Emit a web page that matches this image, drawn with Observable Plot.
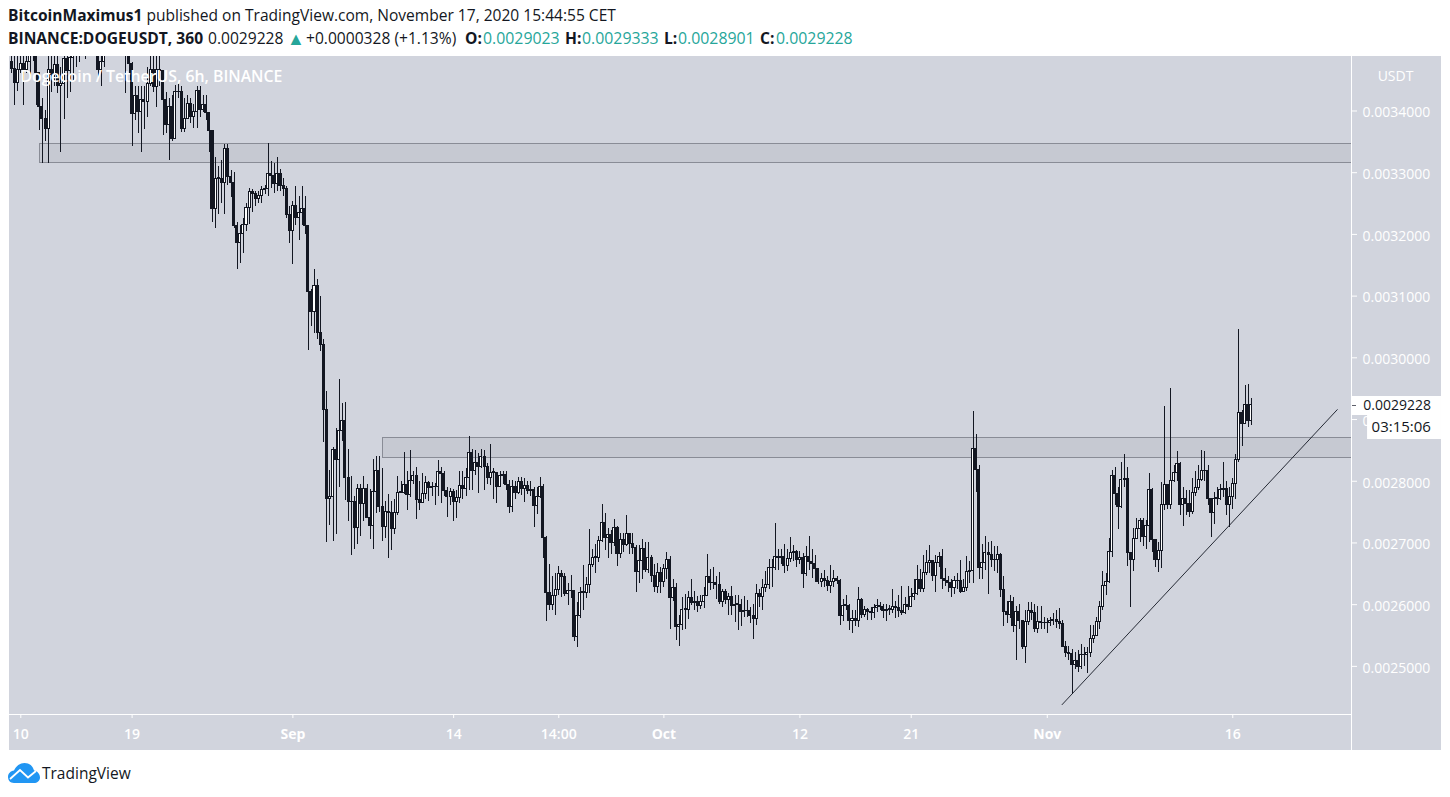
<!DOCTYPE html>
<html><head><meta charset="utf-8">
<script src="https://cdn.jsdelivr.net/npm/d3@7"></script>
<script src="https://cdn.jsdelivr.net/npm/@observablehq/plot@0.6"></script>
<style>
html,body{margin:0;padding:0;background:#fff;overflow:hidden;font-family:"Open Sans",sans-serif;color:#131722}
#head{position:relative;height:56px}
#head div{position:absolute;left:8px;white-space:pre;line-height:20px}
#l1{top:5px;font-size:15.55px}
#l2{top:28px;left:0!important;font-size:15.6px}
#l2 span{position:absolute;top:0;white-space:pre}
b{font-weight:700}.t{color:#26a69a;font-size:15.85px}
#tri{font-size:18px;line-height:20px}
svg{display:block}
#foot{position:relative;height:47px}
#foot svg{position:absolute;left:8px;top:13px}
#foot span{position:absolute;left:42px;top:12px;font-size:15.5px;line-height:22px}
</style></head><body>
<div id="head">
<div id="l1"><b>BitcoinMaximus1</b> published on TradingView.com, November 17, 2020 15:44:55 CET</div>
<div id="l2"><span style="left:8px"><b>BINANCE:DOGEUSDT, 360</b></span><span style="left:208px">0.0029228</span><span id="tri" class="t" style="left:287px;font-size:18px">▲</span><span style="left:306px">+0.0000328 (+1.13%)</span><span style="left:465px"><b>O:</b></span><span class="t" style="left:483px">0.0029023</span><span style="left:565px"><b>H:</b></span><span class="t" style="left:582px">0.0029333</span><span style="left:664px"><b>L:</b></span><span class="t" style="left:678px">0.0028901</span><span style="left:760px"><b>C:</b></span><span class="t" style="left:776px">0.0029228</span></div>
</div>
<div id="chart"></div>
<div id="foot"><svg width="32" height="20" viewBox="0 0 32 20"><path d="M6 20C2 20 0 17 0 14C0 10.500 2.500 8 6 7.500C8 3 12 0 16.500 0C21.500 0 25 3 26 7.500C29.500 8 32 11 32 14.500C32 18 29 20 26 20Z" fill="#2196f3"/><path d="M2 16L12 7L20 14.500L28 8" fill="none" stroke="#fff" stroke-width="1.800"/></svg><span>TradingView</span></div>
<script>
// prices in millionths of USDT; one bar = 6 hours, bar 0 = 10 Aug 00:00
const firstOpen = 3510;
const firstBar = -4;
const closes = [
3480,3468,3445,3466,
3476,3466,3480,3495,3510,3461,3406,3387,3371,3466,
3459,3475,3440,3444,3484,3465,3486,3500,3495,3510,
3505,3510,3520,3530,3520,3466,3480,3495,3510,3515,
3520,3510,3515,3520,3500,3476,3395,3425,3398,3417,
3414,3444,3466,3439,3466,3465,3417,3378,3406,3355,
3430,3430,3371,3387,3412,3391,3398,3432,3402,3409,
3396,3368,3241,3290,3290,3283,3338,3293,3284,3213,
3186,3200,3216,3243,3269,3265,3257,3263,3272,3274,
3298,3294,3282,3298,3279,3274,3231,3206,3246,3226,
3235,3241,3214,3107,3074,3117,3040,3020,2915,2771,
2775,2851,2835,2881,2898,2806,2766,2766,2725,2788,
2763,2788,2740,2727,2783,2817,2758,2726,2750,2748,
2723,2748,2781,2781,2794,2778,2801,2809,2770,2764,
2780,2797,2789,2790,2790,2815,2811,2784,2774,2783,
2766,2773,2793,2787,2806,2846,2816,2830,2823,2839,
2823,2806,2814,2814,2790,2809,2810,2794,2758,2790,
2781,2798,2787,2792,2784,2785,2760,2774,2790,2708,
2619,2599,2614,2624,2650,2645,2618,2622,2622,2547,
2582,2619,2619,2632,2664,2676,2676,2703,2733,2708,
2713,2700,2725,2682,2705,2696,2714,2699,2692,2653,
2670,2690,2656,2675,2646,2628,2652,2637,2657,2673,
2611,2627,2563,2567,2592,2592,2611,2603,2604,2598,
2604,2614,2645,2635,2635,2632,2604,2620,2607,2612,
2598,2600,2600,2588,2589,2590,2581,2577,2618,2612,
2627,2632,2659,2659,2677,2675,2677,2662,2674,2684,
2686,2673,2675,2650,2677,2669,2666,2658,2637,2641,
2638,2630,2637,2642,2638,2581,2598,2598,2574,2577,
2574,2607,2584,2591,2588,2586,2595,2598,2597,2590,
2592,2592,2596,2594,2590,2587,2600,2597,2612,2617,
2640,2626,2652,2667,2671,2647,2667,2678,2641,2638,
2635,2627,2638,2639,2620,2627,2653,2654,2853,2819,
2659,2668,2684,2681,2673,2672,2681,2623,2588,2583,
2605,2566,2588,2574,2531,2572,2590,2586,2561,2572,
2570,2570,2570,2574,2575,2572,2569,2532,2522,2520,
2502,2508,2499,2518,2518,2522,2545,2550,2572,2596,
2631,2637,2685,2809,2780,2758,2802,2804,2683,2672,
2707,2723,2736,2709,2728,2785,2705,2673,2687,2762,
2794,2762,2800,2813,2828,2761,2772,2763,2750,2781,
2789,2802,2816,2816,2772,2749,2772,2772,2785,2788,
2761,2774,2795,2835,2911,2892,2924,2897,2922.8
];
const highs = [
3530,3520,3500,3495,
3500,3510,3530,3540,3550,3540,3450,3420,3400,3490,
3500,3510,3500,3470,3510,3520,3530,3540,3540,3540,
3550,3540,3540,3550,3540,3530,3510,3530,3540,3550,
3550,3540,3540,3550,3530,3530,3478,3440,3440,3440,
3440,3470,3490,3490,3495,3520,3460,3430,3420,3425,
3442,3445,3440,3420,3425,3420,3410,3440,3440,3425,
3425,3395,3368,3325,3310,3320,3345,3346,3304,3300,
3220,3215,3225,3250,3275,3272,3270,3270,3278,3280,
3347,3318,3315,3325,3305,3290,3278,3245,3254,3278,
3262,3278,3262,3214,3110,3143,3127,3100,3030,2945,
2818,2855,2885,2965,2926,2928,2851,2808,2775,2795,
2795,2808,2795,2786,2835,2840,2840,2820,2767,2778,
2767,2770,2807,2800,2847,2815,2850,2815,2822,2800,
2813,2808,2800,2798,2796,2833,2822,2815,2790,2788,
2786,2785,2815,2815,2820,2872,2852,2850,2845,2851,
2850,2828,2860,2820,2810,2815,2815,2816,2802,2802,
2800,2806,2806,2805,2800,2800,2790,2790,2806,2795,
2710,2665,2645,2650,2662,2656,2650,2635,2647,2623,
2603,2628,2663,2644,2722,2689,2697,2710,2763,2748,
2724,2720,2738,2726,2716,2716,2745,2716,2715,2696,
2696,2706,2700,2700,2680,2665,2666,2660,2665,2684,
2678,2640,2634,2583,2612,2617,2622,2641,2622,2614,
2615,2627,2682,2657,2660,2645,2652,2625,2625,2618,
2630,2615,2615,2608,2613,2606,2596,2600,2632,2625,
2640,2653,2673,2673,2731,2690,2690,2698,2690,2709,
2696,2688,2686,2683,2695,2710,2690,2680,2658,2650,
2655,2645,2663,2655,2645,2640,2608,2615,2600,2590,
2590,2628,2610,2597,2594,2595,2600,2608,2604,2600,
2600,2598,2624,2605,2615,2630,2612,2630,2626,2640,
2663,2657,2680,2688,2696,2670,2680,2684,2690,2658,
2645,2640,2645,2650,2672,2640,2678,2670,2913,2876,
2825,2698,2710,2700,2702,2694,2695,2683,2645,2605,
2615,2612,2597,2600,2574,2590,2603,2603,2600,2597,
2597,2580,2578,2580,2585,2590,2593,2575,2540,2533,
2527,2522,2525,2535,2530,2530,2566,2567,2580,2605,
2654,2650,2708,2817,2822,2790,2830,2844,2823,2680,
2723,2740,2740,2740,2736,2812,2788,2705,2700,2798,
2921,2790,2951,2825,2848,2830,2790,2785,2785,2804,
2815,2826,2850,2848,2825,2772,2782,2790,2795,2830,
2800,2790,2805,2843,3046,2915,2955,2956,2933.3
];
const lows = [
3470,3460,3409,3432,
3460,3409,3460,3455,3480,3409,3369,3315,3350,3315,
3430,3440,3428,3333,3387,3420,3430,3450,3470,3478,
3490,3484,3500,3510,3500,3455,3440,3470,3495,3498,
3500,3495,3498,3500,3428,3460,3342,3385,3363,3333,
3370,3390,3440,3430,3406,3440,3360,3363,3319,3350,
3358,3420,3365,3365,3388,3380,3372,3372,3390,3398,
3385,3332,3220,3209,3233,3250,3232,3280,3260,3210,
3143,3153,3169,3205,3216,3235,3245,3250,3250,3265,
3262,3275,3267,3270,3270,3262,3225,3185,3152,3215,
3190,3215,3200,3012,3050,3040,3030,3010,2862,2701,
2728,2703,2714,2790,2865,2768,2735,2680,2690,2697,
2710,2735,2740,2706,2690,2747,2750,2702,2708,2675,
2688,2714,2745,2780,2778,2752,2773,2795,2738,2752,
2764,2771,2767,2775,2760,2775,2764,2775,2741,2760,
2735,2740,2764,2770,2776,2785,2785,2810,2780,2820,
2785,2795,2793,2770,2764,2790,2795,2785,2748,2750,
2770,2778,2777,2765,2778,2775,2725,2746,2772,2675,
2572,2590,2590,2583,2615,2612,2614,2598,2610,2540,
2530,2577,2590,2610,2618,2660,2650,2668,2700,2688,
2674,2682,2695,2662,2675,2685,2695,2682,2682,2620,
2635,2640,2652,2650,2636,2620,2618,2618,2628,2640,
2560,2605,2542,2533,2558,2559,2576,2598,2590,2587,
2592,2594,2614,2623,2625,2608,2600,2595,2600,2583,
2582,2571,2558,2565,2579,2580,2570,2544,2567,2595,
2590,2620,2625,2628,2655,2655,2665,2650,2653,2668,
2670,2660,2665,2626,2645,2655,2643,2636,2633,2628,
2628,2622,2618,2628,2632,2567,2573,2590,2558,2553,
2565,2563,2577,2580,2575,2575,2578,2588,2590,2577,
2572,2583,2585,2578,2580,2583,2584,2590,2595,2606,
2615,2620,2620,2648,2650,2638,2620,2660,2625,2630,
2620,2612,2617,2625,2618,2619,2622,2635,2635,2782,
2640,2640,2655,2617,2660,2653,2650,2612,2565,2570,
2578,2555,2510,2560,2528,2505,2567,2575,2555,2553,
2560,2560,2553,2565,2566,2562,2560,2530,2515,2510,
2454,2495,2490,2495,2500,2488,2515,2537,2548,2560,
2590,2615,2635,2677,2760,2722,2756,2790,2662,2595,
2653,2705,2700,2695,2690,2700,2685,2660,2652,2658,
2752,2755,2755,2798,2800,2744,2727,2745,2742,2746,
2775,2785,2800,2800,2760,2709,2730,2760,2768,2773,
2745,2725,2755,2770,2830,2857,2893,2887,2890.1
];
const zoneStartBars = [6.2, 117.1];
const zoneTops = [3346, 2870];
const zoneBottoms = [3315, 2838];
const trendBars = [336.8, 425.8];
const trendPrices = [2438, 2916];
const yTicks = [2500,2600,2700,2800,2900,3000,3100,3200,3300,3400];
const minorTickBars = [0,36,140,174,252,288,392];
const minorTickLabels = ["10","19","14","14:00","12","21","16"];
const monthTickBars = [88,208,332];
const monthTickLabels = ["Sep","Oct","Nov"];
const countdown = "03:15:06";

const INK="#131722", WHITE="#ffffff", BG="#d1d4dd", FONT='"Open Sans",sans-serif';
const xDomain=[-3.655,430.4], priceDomain=[2422,3488.3];
const bars=closes.map((c,i)=>{
  const open=i?closes[i-1]:firstOpen;
  return {k:i+firstBar,open:open/1e6,close:(c===open?c+0.8:c)/1e6,high:highs[i]/1e6,low:lows[i]/1e6,up:c>=open};
});
const last=closes[closes.length-1]/1e6;
const zones=zoneStartBars.map((k,i)=>({k,top:zoneTops[i]/1e6,bottom:zoneBottoms[i]/1e6}));
const trend=trendBars.map((k,i)=>({k,p:trendPrices[i]/1e6}));
const minorLabel=new Map(minorTickBars.map((k,i)=>[k,minorTickLabels[i]]));
const monthLabel=new Map(monthTickBars.map((k,i)=>[k,monthTickLabels[i]]));
const axisOpts={tickSize:4,tickPadding:11,stroke:WHITE,color:WHITE,fontSize:14,fontFamily:FONT,label:null};
const yTickValues=yTicks.map(d=>d/1e6);
const frameEnd=xDomain[1];
const plot=Plot.plot({
  width:1450,height:694,marginLeft:9,marginRight:99,marginTop:0,marginBottom:36,
  style:{background:`linear-gradient(to right,#fff 9px,${BG} 9px,${BG} 1441px,#fff 1441px)`,fontFamily:FONT},
  x:{domain:xDomain},
  y:{domain:priceDomain.map(d=>d/1e6)},
  marks:[
    Plot.rect(zones,{x1:"k",x2:()=>frameEnd,y1:"bottom",y2:"top",fill:"#787b86",fillOpacity:0.12,stroke:"#898c96",strokeWidth:1,shapeRendering:"crispEdges",clip:true}),
    Plot.ruleX(bars,{x:"k",y1:"low",y2:"high",stroke:INK,strokeWidth:1,shapeRendering:"crispEdges",clip:true}),
    Plot.rect(bars,{x1:d=>d.k-0.33,x2:d=>d.k+0.33,y1:"open",y2:"close",fill:d=>d.up?WHITE:INK,stroke:INK,strokeWidth:1,shapeRendering:"crispEdges",clip:true}),
    Plot.line(trend,{x:"k",y:"p",stroke:INK,strokeWidth:1,strokeOpacity:0.9}),
    Plot.axisX({...axisOpts,ticks:minorTickBars,tickFormat:k=>minorLabel.get(k),fontWeight:600}),
    Plot.axisX({...axisOpts,ticks:monthTickBars,tickFormat:k=>monthLabel.get(k),fontWeight:700}),
    Plot.axisY({anchor:"right",ticks:yTickValues,tickSize:5,stroke:WHITE,fill:"none",label:null}),
    Plot.axisY({anchor:"right",ticks:yTickValues,tickFormat:d=>d.toFixed(7),tickSize:0,tickPadding:11,dy:1.8,stroke:"none",fill:WHITE,fontSize:14,fontFamily:FONT,label:null}),
    Plot.ruleY([priceDomain[0]/1e6],{stroke:WHITE,strokeWidth:1,shapeRendering:"crispEdges"}),
    Plot.ruleX([frameEnd],{stroke:WHITE,strokeWidth:1,insetBottom:-36,shapeRendering:"crispEdges"}),
    Plot.text(["Dogecoin / TetherUS, 6h, BINANCE"],{frameAnchor:"top-left",textAnchor:"start",dx:11,dy:14,fill:WHITE,fontSize:15.85,fontWeight:600}),
    Plot.text(["USDT"],{frameAnchor:"top-right",textAnchor:"middle",dx:44,dy:15,fill:WHITE,fontSize:14}),
    Plot.ruleY([last],{x1:()=>430.7,x2:()=>459.5,stroke:WHITE,strokeWidth:19,clip:false}),
    Plot.ruleY([last],{x1:()=>435.6,x2:()=>459.5,dy:21.5,stroke:WHITE,strokeWidth:24,clip:false}),
    Plot.ruleY([last],{x1:()=>430.7,x2:()=>432,stroke:"#5d606b",strokeWidth:1,shapeRendering:"crispEdges"}),
    Plot.text([last],{x:()=>434.2,y:d=>d,text:d=>d.toFixed(7),textAnchor:"start",fill:INK,fontSize:14}),
    Plot.text([last],{x:()=>436.9,y:d=>d,dy:22,text:()=>countdown,textAnchor:"start",fill:INK,fontSize:15})
  ]
});
document.getElementById("chart").append(plot);
</script>
</body></html>
